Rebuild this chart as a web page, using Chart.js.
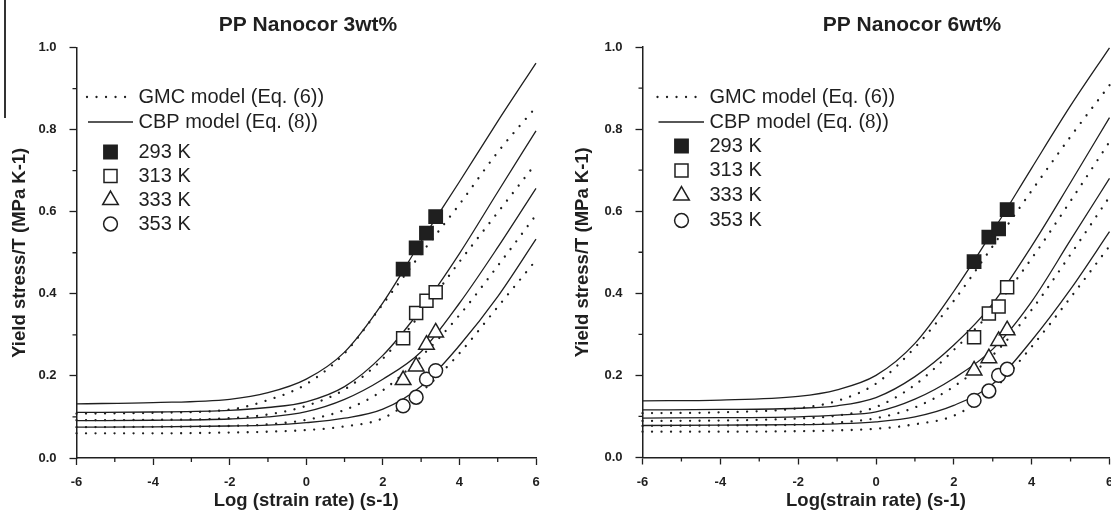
<!DOCTYPE html>
<html lang="en">
<head>
<meta charset="UTF-8" />
<title>PP Nanocor – Yield stress/T vs log strain rate</title>
<style>
  html, body { margin: 0; padding: 0; background: #fff; }
  body { width: 1111px; height: 513px; position: relative; overflow: hidden; }
  .panel { position: absolute; top: 0; }
  #left { left: 0; }
  #right { left: 560px; }
  /* thin scan mark at the top-left edge of the original figure */
  #scanline { position: absolute; left: 4px; top: 0; width: 1.5px; height: 118px; background: #333; }
</style>
<script src="https://cdn.jsdelivr.net/npm/chart.js"></script>
</head>
<body>
<div class="panel" id="left"><canvas id="chart3" width="560" height="513" style="width:560px;height:513px"></canvas></div>
<div class="panel" id="right"><canvas id="chart6" width="570" height="513" style="width:570px;height:513px"></canvas></div>
<div id="scanline"></div>

<script>
// ---- data ----
// model curves are sampled at these log strain rates
const logRate = [-6, -4, -2, -1, 0, 1, 2, 3, 4, 5, 6];
const tempLabels = ['293 K', '313 K', '333 K', '353 K'];

// PP Nanocor 3wt%
const cbp3_293 = [0.132, 0.135, 0.143, 0.159, 0.192, 0.258, 0.378, 0.528, 0.673, 0.820, 0.962];
const cbp3_313 = [0.111, 0.112, 0.116, 0.123, 0.137, 0.174, 0.250, 0.363, 0.498, 0.648, 0.797];
const cbp3_333 = [0.091, 0.092, 0.095, 0.100, 0.113, 0.143, 0.192, 0.259, 0.377, 0.513, 0.657];
const cbp3_353 = [0.075, 0.076, 0.078, 0.080, 0.086, 0.097, 0.119, 0.175, 0.274, 0.393, 0.533];
const gmc3_293 = [0.108, 0.110, 0.118, 0.141, 0.180, 0.255, 0.375, 0.498, 0.618, 0.745, 0.855];
const gmc3_313 = [0.092, 0.093, 0.097, 0.106, 0.127, 0.167, 0.242, 0.353, 0.478, 0.598, 0.718];
const gmc3_333 = [0.075, 0.076, 0.078, 0.082, 0.093, 0.117, 0.165, 0.247, 0.348, 0.468, 0.592];
const gmc3_353 = [0.060, 0.060, 0.062, 0.064, 0.068, 0.077, 0.097, 0.161, 0.255, 0.368, 0.482];
const rate3 = [2.53, 2.87, 3.14, 3.38];
const exp3_293 = [0.460, 0.512, 0.548, 0.588];
const exp3_313 = [0.292, 0.353, 0.383, 0.404];
const exp3_333 = [0.190, 0.223, 0.276, 0.306];
const exp3_353 = [0.127, 0.148, 0.192, 0.213];

// PP Nanocor 6wt%
const cbp6_293 = [0.138, 0.140, 0.149, 0.165, 0.200, 0.278, 0.405, 0.551, 0.705, 0.857, 0.998];
const cbp6_313 = [0.116, 0.117, 0.120, 0.126, 0.146, 0.197, 0.274, 0.375, 0.515, 0.670, 0.828];
const cbp6_333 = [0.096, 0.097, 0.099, 0.103, 0.111, 0.142, 0.193, 0.264, 0.380, 0.530, 0.680];
const cbp6_353 = [0.078, 0.079, 0.080, 0.082, 0.087, 0.099, 0.127, 0.179, 0.285, 0.410, 0.550];
const gmc6_293 = [0.108, 0.110, 0.120, 0.138, 0.180, 0.268, 0.382, 0.515, 0.650, 0.782, 0.907];
const gmc6_313 = [0.089, 0.090, 0.095, 0.102, 0.123, 0.177, 0.262, 0.360, 0.485, 0.625, 0.769];
const gmc6_333 = [0.077, 0.078, 0.080, 0.085, 0.096, 0.122, 0.173, 0.249, 0.360, 0.495, 0.635];
const gmc6_353 = [0.063, 0.063, 0.064, 0.066, 0.070, 0.081, 0.102, 0.164, 0.270, 0.390, 0.515];
const rate6 = [2.52, 2.90, 3.15, 3.37];
const exp6_293 = [0.477, 0.537, 0.557, 0.604];
const exp6_313 = [0.293, 0.351, 0.368, 0.415];
const exp6_333 = [0.212, 0.242, 0.284, 0.310];
const exp6_353 = [0.139, 0.162, 0.200, 0.215];

const minorX = [-5, -3, -1, 1, 3, 5];
const minorY = [0.1, 0.3, 0.5, 0.7, 0.9];

// ---- styling ----
const INK = '#1f1f1f';
const SANS = '"Liberation Sans", Arial, Helvetica, sans-serif';
const SERIF = '"Liberation Serif", "Times New Roman", serif';
const markerStyles = [
  { style: 'rect', fill: INK, r: 9.4 },
  { style: 'rect', fill: '#fff', r: 9.2 },
  { style: 'triangle', fill: '#fff', r: 9 },
  { style: 'circle', fill: '#fff', r: 6.9 }
];

function curve(ys, dotted) {
  return {
    data: logRate.map((x, i) => ({ x: x, y: ys[i] })),
    borderColor: INK,
    borderWidth: dotted ? 2.3 : 1.3,
    borderDash: dotted ? [0.01, 9.5] : [],
    borderCapStyle: dotted ? 'round' : 'butt',
    pointRadius: 0,
    cubicInterpolationMode: 'monotone',
    fill: false,
    clip: false,
    order: 2
  };
}

function marks(xs, ys, k) {
  const m = markerStyles[k];
  return {
    label: tempLabels[k],
    data: xs.map((x, i) => ({ x: x, y: ys[i] })),
    showLine: false,
    pointStyle: m.style,
    pointRadius: m.r,
    pointBackgroundColor: m.fill,
    pointBorderColor: INK,
    pointBorderWidth: 1.5,
    clip: false,
    order: 0
  };
}

// draw a legend symbol the same way as the plotted points
function symbol(ctx, k, cx, cy) {
  const m = markerStyles[k];
  ctx.beginPath();
  if (m.style === 'rect') {
    const h = Math.SQRT1_2 * m.r;
    ctx.rect(cx - h, cy - h, 2 * h, 2 * h);
  } else if (m.style === 'triangle') {
    const a = 2 * Math.PI / 3;
    ctx.moveTo(cx, cy - m.r);
    ctx.lineTo(cx + Math.sin(a) * m.r, cy - Math.cos(a) * m.r);
    ctx.lineTo(cx + Math.sin(2 * a) * m.r, cy - Math.cos(2 * a) * m.r);
    ctx.closePath();
  } else {
    ctx.arc(cx, cy, m.r, 0, Math.PI * 2);
  }
  ctx.fillStyle = m.fill;
  ctx.fill();
  ctx.lineWidth = 1.5;
  ctx.strokeStyle = INK;
  ctx.stroke();
}

// minor ticks, panel title and the in-plot legend
const decor = {
  id: 'decor',
  afterDraw(chart, args, o) {
    const { ctx, chartArea: a, scales: { x, y } } = chart;
    ctx.save();
    ctx.strokeStyle = INK;
    ctx.lineWidth = 1.3;
    ctx.beginPath();
    minorY.forEach(v => {
      const py = y.getPixelForValue(v);
      ctx.moveTo(a.left - 4, py); ctx.lineTo(a.left, py);
    });
    minorX.forEach(v => {
      const px = x.getPixelForValue(v);
      ctx.moveTo(px, a.bottom); ctx.lineTo(px, a.bottom + 4);
    });
    ctx.stroke();

    ctx.fillStyle = INK;
    ctx.textBaseline = 'middle';
    ctx.textAlign = 'center';
    ctx.font = 'bold 21px ' + SANS;
    ctx.fillText(o.title, o.titleX, 25);

    // legend
    const L = o.legend;
    ctx.textAlign = 'left';
    ctx.font = '20px ' + SANS;

    ctx.beginPath();
    ctx.setLineDash([0.01, 9.5]);
    ctx.lineCap = 'round';
    ctx.lineWidth = 2.3;
    ctx.moveTo(L.line0, L.rows[0]); ctx.lineTo(L.line1, L.rows[0]);
    ctx.stroke();
    ctx.setLineDash([]);
    ctx.lineCap = 'butt';
    ctx.lineWidth = 1.3;
    ctx.beginPath();
    ctx.moveTo(L.line0 + 1, L.rows[1]); ctx.lineTo(L.line1 + 1, L.rows[1]);
    ctx.stroke();

    const tx = L.text;
    ctx.fillStyle = INK;
    ctx.fillText('GMC model (Eq. (6))', tx, L.rows[0]);
    const head = 'CBP model (Eq. (';
    ctx.fillText(head, tx, L.rows[1]);
    let w = ctx.measureText(head).width;
    ctx.font = '21px ' + SERIF;
    ctx.fillText('8', tx + w, L.rows[1]);
    w += ctx.measureText('8').width;
    ctx.font = '20px ' + SANS;
    ctx.fillText('))', tx + w, L.rows[1]);

    for (let k = 0; k < 4; k++) {
      const ry = L.rows[k + 2];
      symbol(ctx, k, L.sym, ry);
      ctx.fillStyle = INK;
      ctx.fillText(tempLabels[k], tx, ry);
    }
    ctx.restore();
  }
};

function makeChart(id, c) {
  const tickFont = { family: SANS, size: 13, weight: 'bold' };
  const titleFont = { family: SANS, size: 18.5, weight: 'bold', lineHeight: 1.2 };
  const grid = { drawOnChartArea: false, tickLength: 7, tickWidth: 1.3, tickColor: INK };
  const border = { color: INK, width: 1.5 };
  return new Chart(document.getElementById(id), {
    type: 'line',
    data: {
      datasets: [
        marks(c.rate, c.exp[0], 0), marks(c.rate, c.exp[1], 1),
        marks(c.rate, c.exp[2], 2), marks(c.rate, c.exp[3], 3),
        ...c.cbp.map(s => curve(s, false)),
        ...c.gmc.map(s => curve(s, true))
      ]
    },
    options: {
      responsive: false,
      animation: false,
      devicePixelRatio: 1,
      events: [],
      layout: { padding: { top: c.top, right: c.right, left: 0, bottom: 0 } },
      plugins: {
        legend: { display: false },
        tooltip: { enabled: false },
        decor: { title: c.title, titleX: c.titleX, legend: c.legend }
      },
      scales: {
        x: {
          type: 'linear', min: -6, max: 6,
          afterFit: s => { s.height = c.xh; },
          ticks: { stepSize: 2, padding: 10, color: INK, font: tickFont, callback: v => String(v) },
          grid: grid, border: border,
          title: { display: true, text: c.xTitle, color: INK, font: titleFont, padding: { top: 0, bottom: 1 } }
        },
        y: {
          min: 0, max: 1,
          afterFit: s => { s.width = c.yw; },
          ticks: { stepSize: 0.2, padding: 13, color: INK, font: tickFont, callback: v => v.toFixed(1) },
          grid: grid, border: border,
          title: { display: true, text: 'Yield stress/T (MPa K-1)', color: INK, font: titleFont, padding: { top: c.yPad, bottom: 0 } }
        }
      }
    },
    plugins: [decor]
  });
}

makeChart('chart3', {
  title: 'PP Nanocor 3wt%', titleX: 308, xTitle: 'Log (strain rate) (s-1)',
  cbp: [cbp3_293, cbp3_313, cbp3_333, cbp3_353],
  gmc: [gmc3_293, gmc3_313, gmc3_333, gmc3_353],
  rate: rate3, exp: [exp3_293, exp3_313, exp3_333, exp3_353],
  top: 47.5, right: 24, xh: 55, yw: 76.5, yPad: 9,
  legend: { line0: 87, line1: 132, sym: 110.5, text: 138.5, rows: [97, 122, 152, 176, 200, 224] }
});

makeChart('chart6', {
  title: 'PP Nanocor 6wt%', titleX: 352, xTitle: 'Log(strain rate) (s-1)',
  cbp: [cbp6_293, cbp6_313, cbp6_333, cbp6_353],
  gmc: [gmc6_293, gmc6_313, gmc6_333, gmc6_353],
  rate: rate6, exp: [exp6_293, exp6_313, exp6_333, exp6_353],
  top: 47, right: 20.5, xh: 55.5, yw: 82.5, yPad: 12,
  legend: { line0: 97.5, line1: 143, sym: 121.5, text: 149.5, rows: [97, 122, 146, 170.5, 195.5, 220.5] }
});
</script>
</body>
</html>
